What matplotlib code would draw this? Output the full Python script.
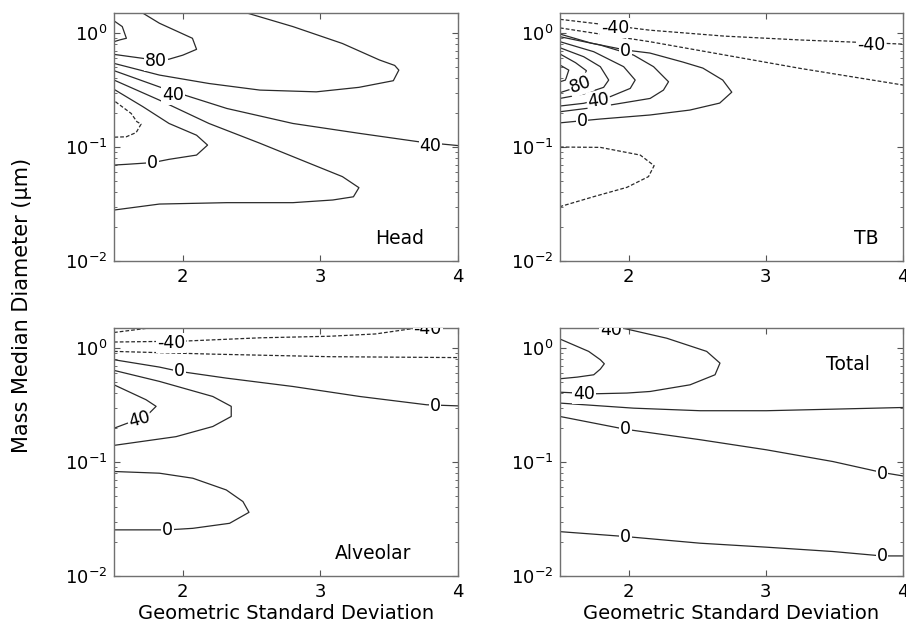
import matplotlib
matplotlib.use("Agg")
import matplotlib.pyplot as plt
from matplotlib.ticker import LogLocator, FixedLocator, NullFormatter, LogFormatterSciNotation

plt.rcParams['font.family'] = ['DejaVu Sans']

# ------------------------------------------------------------------
# Data: contour lines (GSD, MMD in um)
# ------------------------------------------------------------------
# ---- Head ----
head_c100_gsd = [1.5, 1.56, 1.59, 1.54, 1.5]
head_c100_mmd = [1.28, 1.14, 0.90, 0.87, 0.84]
head_c80_gsd = [1.70, 1.83, 2.07, 2.10, 2.00, 1.90, 1.81, 1.71, 1.5]
head_c80_mmd = [1.52, 1.22, 0.90, 0.72, 0.64, 0.59, 0.57, 0.60, 0.65]
head_c60_gsd = [2.45, 2.80, 3.16, 3.43, 3.54, 3.57, 3.53, 3.28, 2.97, 2.56, 2.19, 1.83, 1.5]
head_c60_mmd = [1.52, 1.14, 0.81, 0.58, 0.52, 0.473, 0.382, 0.334, 0.305, 0.316, 0.361, 0.428, 0.542]
head_c40_gsd = [1.5, 1.86, 2.32, 2.80, 3.28, 3.72, 4.0]
head_c40_mmd = [0.468, 0.327, 0.218, 0.161, 0.132, 0.111, 0.103]
head_c20_gsd = [1.5, 1.83, 2.19, 2.56, 2.92, 3.16, 3.28, 3.24, 3.09, 2.80, 2.32, 1.83, 1.5]
head_c20_mmd = [0.387, 0.258, 0.161, 0.108, 0.072, 0.055, 0.044, 0.0366, 0.0343, 0.0325, 0.0325, 0.0316, 0.028]
head_c0_gsd = [1.5, 1.71, 1.90, 2.10, 2.18, 2.10, 1.90, 1.78, 1.59, 1.5]
head_c0_mmd = [0.321, 0.226, 0.161, 0.127, 0.104, 0.085, 0.078, 0.073, 0.0705, 0.0695]
head_cm20_gsd = [1.51, 1.625, 1.666, 1.697, 1.661, 1.589, 1.5]
head_cm20_mmd = [0.25, 0.197, 0.167, 0.159, 0.134, 0.123, 0.122]
head_lbl_text = ['80', '40', '40', '0']
head_lbl_gsd = [1.806, 1.927, 3.80, 1.782]
head_lbl_mmd = [0.565, 0.286, 0.103, 0.072]

# ---- TB ----
tb_cm40_gsd = [1.5, 1.79, 2.155, 2.70, 3.25, 4.0]
tb_cm40_mmd = [1.32, 1.20, 1.06, 0.94, 0.87, 0.80]
tb_cm20_gsd = [1.5, 2.155, 3.25, 4.0]
tb_cm20_mmd = [1.11, 0.84, 0.49, 0.35]
tb_c0_gsd = [1.5, 1.726, 1.98, 2.155, 2.395, 2.541, 2.686, 2.752, 2.664, 2.446, 2.155, 1.791, 1.5]
tb_c0_mmd = [0.98, 0.817, 0.709, 0.668, 0.557, 0.493, 0.387, 0.303, 0.243, 0.211, 0.191, 0.176, 0.163]
tb_c20_gsd = [1.5, 1.794, 2.036, 2.182, 2.291, 2.254, 2.157, 1.794, 1.5]
tb_c20_mmd = [0.929, 0.785, 0.641, 0.507, 0.374, 0.316, 0.267, 0.226, 0.204]
tb_c40_gsd = [1.5, 1.746, 1.964, 2.048, 2.012, 1.867, 1.673, 1.5]
tb_c40_mmd = [0.84, 0.686, 0.507, 0.387, 0.327, 0.277, 0.242, 0.229]
tb_c60_gsd = [1.5, 1.673, 1.794, 1.855, 1.818, 1.673, 1.5]
tb_c60_mmd = [0.743, 0.62, 0.507, 0.387, 0.334, 0.292, 0.267]
tb_c80_gsd = [1.5, 1.613, 1.692, 1.661, 1.576, 1.5]
tb_c80_mmd = [0.655, 0.55, 0.468, 0.361, 0.321, 0.30]
tb_c100_gsd = [1.5, 1.564, 1.54, 1.5]
tb_c100_mmd = [0.524, 0.473, 0.387, 0.374]
tb_cm20b_gsd = [1.5, 1.794, 2.085, 2.186, 2.145, 1.988, 1.746, 1.5]
tb_cm20b_mmd = [0.1, 0.0993, 0.085, 0.0686, 0.055, 0.0443, 0.0367, 0.030]
tb_lbl_text = ['-40', '-40', '0', '0', '40', '80']
tb_lbl_gsd = [1.90, 3.77, 1.98, 1.66, 1.78, 1.649]
tb_lbl_mmd = [1.11, 0.79, 0.70, 0.169, 0.255, 0.35]
tb_lbl_rot = [0, 0, 0, 0, 8, 20]

# ---- Alveolar ----
alv_cm60_gsd = [1.5, 1.66, 1.81]
alv_cm60_mmd = [1.37, 1.45, 1.53]
alv_cm40_gsd = [1.5, 2.0, 2.56, 3.07, 3.40, 3.65, 3.85]
alv_cm40_mmd = [1.13, 1.15, 1.23, 1.27, 1.33, 1.47, 1.60]
alv_cm20_gsd = [1.5, 2.21, 3.07, 4.0]
alv_cm20_mmd = [0.935, 0.885, 0.84, 0.825]
alv_c0a_gsd = [1.5, 1.83, 1.976, 2.316, 2.801, 3.286, 3.772, 4.0]
alv_c0a_mmd = [0.79, 0.681, 0.624, 0.545, 0.46, 0.376, 0.318, 0.311]
alv_c20_gsd = [1.5, 1.83, 2.218, 2.352, 2.352, 2.218, 1.951, 1.5]
alv_c20_mmd = [0.637, 0.51, 0.376, 0.308, 0.251, 0.205, 0.167, 0.14]
alv_c40_gsd = [1.5, 1.733, 1.806, 1.757, 1.684, 1.5]
alv_c40_mmd = [0.476, 0.352, 0.308, 0.269, 0.240, 0.198]
alv_c0b_gsd = [1.5, 1.83, 2.073, 2.316, 2.437, 2.481, 2.34, 2.073, 1.891, 1.5]
alv_c0b_mmd = [0.0826, 0.0798, 0.0721, 0.0569, 0.045, 0.0362, 0.029, 0.0262, 0.0254, 0.0254]
alv_lbl_text = ['-40', '-40', '0', '0', '40', '0']
alv_lbl_gsd = [1.915, 3.78, 1.976, 3.833, 1.684, 1.891]
alv_lbl_mmd = [1.10, 1.46, 0.624, 0.311, 0.235, 0.0254]
alv_lbl_rot = [0, 0, 0, 0, 15, 0]

# ---- Total ----
tot_c60_gsd = [1.5, 1.709, 1.794, 1.823, 1.794, 1.746, 1.625, 1.5]
tot_c60_mmd = [1.2, 0.935, 0.79, 0.728, 0.654, 0.583, 0.556, 0.538]
tot_c40_gsd = [1.85, 1.964, 2.278, 2.569, 2.666, 2.63, 2.448, 2.157, 1.988, 1.746, 1.5]
tot_c40_mmd = [1.56, 1.49, 1.22, 0.935, 0.738, 0.583, 0.476, 0.416, 0.403, 0.397, 0.41]
tot_c20_gsd = [1.5, 2.036, 2.521, 3.005, 3.489, 4.0]
tot_c20_mmd = [0.329, 0.297, 0.282, 0.282, 0.291, 0.301]
tot_c0a_gsd = [1.5, 1.976, 2.521, 3.005, 3.489, 3.847, 4.0]
tot_c0a_mmd = [0.251, 0.194, 0.157, 0.128, 0.101, 0.081, 0.0755]
tot_c0b_gsd = [1.5, 1.976, 2.521, 3.005, 3.489, 3.847, 4.0]
tot_c0b_mmd = [0.0245, 0.0222, 0.0194, 0.0179, 0.0164, 0.015, 0.015]
tot_lbl_text = ['40', '40', '0', '0', '0', '0']
tot_lbl_gsd = [1.87, 1.673, 1.976, 3.847, 1.976, 3.847]
tot_lbl_mmd = [1.44, 0.395, 0.193, 0.079, 0.0221, 0.0149]

x_ticks = [2, 3, 4]
x_limits = [1.5, 4]
y_limits = [0.01, 1.5]

# ------------------------------------------------------------------
LINE_COLOR = '#2a2a2a'
SOLID = '-'
DASHED = (0, (3.0, 1.6))

fig = plt.figure(figsize=(9.06, 6.28), dpi=100)

W = 906.0
H = 628.0
positions = {
    'head': [114 / W, 1 - 261 / H, 344 / W, 248 / H],
    'tb': [560 / W, 1 - 261 / H, 343 / W, 248 / H],
    'alv': [114 / W, 1 - 576 / H, 344 / W, 248 / H],
    'tot': [560 / W, 1 - 576 / H, 343 / W, 248 / H],
}


def style_axes(ax):
    ax.set_xscale('linear')
    ax.set_yscale('log')
    ax.set_xlim(*x_limits)
    ax.set_ylim(*y_limits)
    ax.xaxis.set_major_locator(FixedLocator(x_ticks))
    ax.set_xticklabels([str(t) for t in x_ticks])
    ax.yaxis.set_major_locator(LogLocator(base=10, numticks=10))
    ax.yaxis.set_major_formatter(LogFormatterSciNotation())
    ax.yaxis.set_minor_locator(LogLocator(base=10, subs=range(2, 10), numticks=20))
    ax.yaxis.set_minor_formatter(NullFormatter())
    ax.tick_params(which='both', direction='in', top=True, right=True,
                   colors='#555555', labelcolor='black', labelsize=13)
    ax.tick_params(which='major', length=4, width=0.8, pad=5)
    ax.tick_params(which='minor', length=2.2, width=0.6)
    for sp in ax.spines.values():
        sp.set_color('#707070')
        sp.set_linewidth(1.0)


def draw(ax, curves, labels, name, name_xy):
    for gx, gy, ls in curves:
        ax.plot(gx, gy, color=LINE_COLOR, lw=0.9, linestyle=ls, zorder=2)
    texts, lx, ly, rots = labels
    for t, x, y, r in zip(texts, lx, ly, rots):
        ax.text(x, y, t, ha='center', va='center', fontsize=12.5, rotation=r,
                rotation_mode='anchor', clip_on=True, zorder=3,
                bbox=dict(facecolor='white', edgecolor='none', pad=0.6))
    ax.text(name_xy[0], name_xy[1], name, transform=ax.transAxes,
            ha='center', va='center', fontsize=13.5)


ax_head = fig.add_axes(positions['head'])
style_axes(ax_head)
draw(ax_head,
     [(head_c100_gsd, head_c100_mmd, SOLID), (head_c80_gsd, head_c80_mmd, SOLID),
      (head_c60_gsd, head_c60_mmd, SOLID), (head_c40_gsd, head_c40_mmd, SOLID),
      (head_c20_gsd, head_c20_mmd, SOLID), (head_c0_gsd, head_c0_mmd, SOLID),
      (head_cm20_gsd, head_cm20_mmd, DASHED)],
     (head_lbl_text, head_lbl_gsd, head_lbl_mmd, [0] * len(head_lbl_text)),
     'Head', (0.831, 0.09))

ax_tb = fig.add_axes(positions['tb'])
style_axes(ax_tb)
draw(ax_tb,
     [(tb_cm40_gsd, tb_cm40_mmd, DASHED), (tb_cm20_gsd, tb_cm20_mmd, DASHED),
      (tb_c0_gsd, tb_c0_mmd, SOLID), (tb_c20_gsd, tb_c20_mmd, SOLID),
      (tb_c40_gsd, tb_c40_mmd, SOLID), (tb_c60_gsd, tb_c60_mmd, SOLID),
      (tb_c80_gsd, tb_c80_mmd, SOLID), (tb_c100_gsd, tb_c100_mmd, SOLID),
      (tb_cm20b_gsd, tb_cm20b_mmd, DASHED)],
     (tb_lbl_text, tb_lbl_gsd, tb_lbl_mmd, tb_lbl_rot),
     'TB', (0.894, 0.09))

ax_alv = fig.add_axes(positions['alv'])
style_axes(ax_alv)
draw(ax_alv,
     [(alv_cm60_gsd, alv_cm60_mmd, DASHED), (alv_cm40_gsd, alv_cm40_mmd, DASHED),
      (alv_cm20_gsd, alv_cm20_mmd, DASHED), (alv_c0a_gsd, alv_c0a_mmd, SOLID),
      (alv_c20_gsd, alv_c20_mmd, SOLID), (alv_c40_gsd, alv_c40_mmd, SOLID),
      (alv_c0b_gsd, alv_c0b_mmd, SOLID)],
     (alv_lbl_text, alv_lbl_gsd, alv_lbl_mmd, alv_lbl_rot),
     'Alveolar', (0.754, 0.09))
ax_alv.set_xlabel('Geometric Standard Deviation', fontsize=14, labelpad=2)

ax_tot = fig.add_axes(positions['tot'])
style_axes(ax_tot)
draw(ax_tot,
     [(tot_c60_gsd, tot_c60_mmd, SOLID), (tot_c40_gsd, tot_c40_mmd, SOLID),
      (tot_c20_gsd, tot_c20_mmd, SOLID), (tot_c0a_gsd, tot_c0a_mmd, SOLID),
      (tot_c0b_gsd, tot_c0b_mmd, SOLID)],
     (tot_lbl_text, tot_lbl_gsd, tot_lbl_mmd, [0] * len(tot_lbl_text)),
     'Total', (0.84, 0.851))
ax_tot.set_xlabel('Geometric Standard Deviation', fontsize=14, labelpad=2)

fig.text(0.024, 0.514, 'Mass Median Diameter (\u03bcm)', rotation=90,
         ha='center', va='center', fontsize=15)

fig.savefig('out.png', dpi=100)
